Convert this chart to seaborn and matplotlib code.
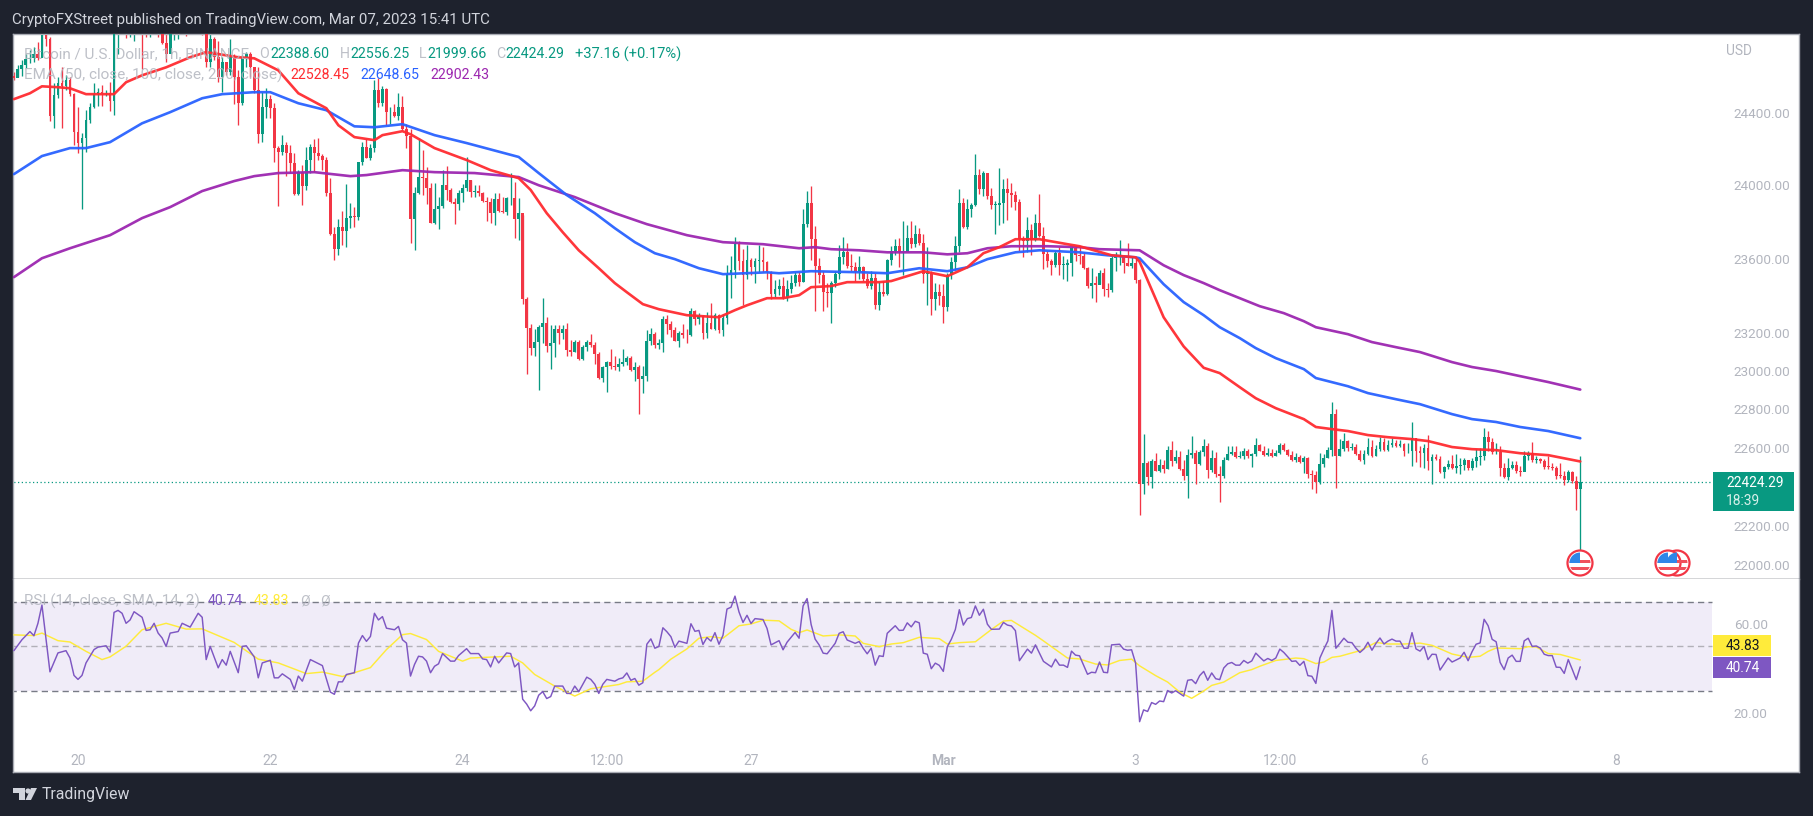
import numpy as np
import pandas as pd
import seaborn as sns
import matplotlib.pyplot as plt
from matplotlib.patches import Circle, Rectangle, Polygon

# hourly BTC/USD candles, oldest first (10 per row)
closes = [
    24595, 24645, 24670, 24706, 24712, 24730, 24712, 24840, 24820, 24381,
    24502, 24567, 24552, 24585, 24508, 24297, 24232, 24260, 24362, 24433,
    24508, 24519, 24511, 24515, 24468, 24846, 24900, 24960, 24870, 24890,
    24930, 24960, 24880, 24860, 24900, 24950, 24870, 24795, 24735, 24860,
    24900, 24930, 24960, 24900, 24950, 24960, 24930, 24860, 24688, 24818,
    24716, 24604, 24688, 24632, 24716, 24604, 24459, 24716, 24734, 24660,
    24530, 24282, 24433, 24478, 24427, 24204, 24186, 24223, 24176, 24124,
    23953, 24074, 23996, 24139, 24212, 24179, 24163, 24139, 23956, 23733,
    23650, 23769, 23751, 23819, 23833, 23828, 24126, 24212, 24148, 24203,
    24532, 24459, 24536, 24404, 24404, 24382, 24435, 24313, 24272, 23813,
    23956, 24047, 24042, 23983, 23795, 23868, 23886, 24002, 23974, 23906,
    23895, 23956, 23983, 24029, 23961, 23970, 23956, 23914, 23906, 23846,
    23923, 23859, 23855, 23928, 23928, 23813, 23846, 23384, 23229, 23122,
    23153, 23233, 23256, 23131, 23149, 23224, 23202, 23224, 23112, 23103,
    23156, 23064, 23126, 23153, 23135, 23090, 22962, 23023, 23046, 23028,
    23023, 23037, 23046, 23069, 23005, 23023, 22957, 22975, 23161, 23197,
    23135, 23149, 23277, 23250, 23218, 23161, 23202, 23192, 23188, 23318,
    23274, 23290, 23202, 23256, 23224, 23295, 23218, 23281, 23518, 23539,
    23678, 23589, 23509, 23594, 23553, 23589, 23592, 23580, 23526, 23411,
    23437, 23452, 23388, 23437, 23469, 23512, 23473, 23787, 23901, 23706,
    23561, 23512, 23420, 23413, 23467, 23516, 23610, 23634, 23558, 23552,
    23530, 23552, 23489, 23453, 23498, 23348, 23422, 23407, 23592, 23643,
    23670, 23634, 23637, 23711, 23677, 23733, 23684, 23516, 23516, 23380,
    23422, 23398, 23339, 23512, 23579, 23666, 23905, 23773, 23869, 23891,
    24059, 23977, 24068, 23941, 23892, 23892, 23905, 23981, 23959, 23945,
    23909, 23706, 23697, 23755, 23701, 23793, 23724, 23625, 23588, 23565,
    23630, 23565, 23567, 23576, 23655, 23619, 23615, 23548, 23453, 23467,
    23458, 23520, 23434, 23431, 23601, 23606, 23606, 23576, 23561, 23576,
    23483, 22410, 22521, 22450, 22529, 22478, 22512, 22490, 22589, 22529,
    22551, 22492, 22453, 22563, 22572, 22517, 22575, 22609, 22483, 22546,
    22466, 22453, 22538, 22568, 22577, 22551, 22555, 22585, 22555, 22568,
    22614, 22585, 22560, 22572, 22558, 22572, 22614, 22589, 22563, 22538,
    22551, 22526, 22546, 22466, 22461, 22422, 22516, 22546, 22589, 22776,
    22558, 22592, 22636, 22597, 22602, 22568, 22535, 22568, 22602, 22555,
    22592, 22631, 22589, 22614, 22623, 22606, 22619, 22580, 22584, 22648,
    22580, 22572, 22597, 22529, 22551, 22541, 22473, 22500, 22516, 22495,
    22507, 22512, 22534, 22495, 22529, 22551, 22558, 22654, 22628, 22575,
    22575, 22495, 22450, 22495, 22512, 22478, 22475, 22558, 22572, 22535,
    22541, 22529, 22500, 22499, 22495, 22456, 22453, 22431, 22473, 22427,
    22388.60, 22424.29,
]
highs = [
    24632, 24669, 24697, 24734, 24753, 24772, 24800, 24950, 24900, 24830,
    24567, 24604, 24660, 24613, 24604, 24511, 24433, 24288, 24418, 24455,
    24567, 24539, 24558, 24530, 24576, 24900, 24990, 25000, 24980, 24960,
    24990, 25000, 25000, 24950, 24980, 25000, 24980, 24950, 24850, 24950,
    24950, 24970, 25000, 24980, 24990, 25000, 24980, 24950, 24890, 24850,
    24830, 24809, 24716, 24688, 24818, 24734, 24641, 24725, 24744, 24744,
    24660, 24660, 24520, 24539, 24502, 24455, 24214, 24279, 24241, 24223,
    24176, 24084, 24111, 24212, 24230, 24258, 24261, 24175, 24157, 24042,
    23773, 23813, 23861, 24005, 23905, 23883, 24130, 24240, 24258, 24225,
    24587, 24596, 24551, 24541, 24432, 24450, 24510, 24496, 24340, 24313,
    23990, 24261, 24194, 24102, 24011, 24011, 23938, 24084, 24106, 23983,
    23928, 23974, 24005, 24153, 24029, 24002, 24002, 23965, 23938, 23928,
    23956, 23956, 23938, 23938, 24066, 24020, 23928, 23837, 23393, 23250,
    23224, 23242, 23389, 23286, 23245, 23242, 23245, 23245, 23256, 23162,
    23162, 23162, 23138, 23162, 23197, 23156, 23099, 23028, 23051, 23117,
    23078, 23067, 23117, 23081, 23078, 23046, 23033, 23028, 23215, 23227,
    23206, 23170, 23291, 23295, 23263, 23233, 23210, 23249, 23220, 23336,
    23325, 23309, 23295, 23313, 23363, 23307, 23304, 23304, 23566, 23615,
    23719, 23695, 23651, 23672, 23601, 23601, 23672, 23665, 23589, 23535,
    23482, 23491, 23500, 23482, 23509, 23530, 23530, 23869, 23968, 23996,
    23775, 23601, 23534, 23471, 23480, 23534, 23673, 23715, 23684, 23625,
    23583, 23615, 23561, 23525, 23534, 23525, 23476, 23480, 23597, 23670,
    23706, 23711, 23802, 23782, 23802, 23782, 23766, 23733, 23661, 23534,
    23471, 23462, 23462, 23525, 23606, 23724, 23981, 23932, 23927, 23905,
    24173, 24090, 24077, 24068, 23987, 23914, 24095, 24032, 24041, 24010,
    23968, 23923, 23720, 23824, 23787, 23842, 23950, 23769, 23643, 23597,
    23643, 23661, 23612, 23597, 23666, 23670, 23666, 23634, 23552, 23547,
    23507, 23539, 23547, 23471, 23615, 23634, 23701, 23621, 23684, 23615,
    23606, 23490, 22670, 22530, 22541, 22572, 22541, 22538, 22609, 22636,
    22589, 22580, 22538, 22592, 22660, 22589, 22589, 22643, 22626, 22589,
    22575, 22504, 22551, 22606, 22609, 22606, 22580, 22597, 22592, 22572,
    22648, 22620, 22609, 22597, 22592, 22589, 22623, 22623, 22592, 22580,
    22572, 22563, 22555, 22551, 22487, 22478, 22572, 22568, 22601, 22839,
    22801, 22643, 22677, 22640, 22623, 22620, 22589, 22589, 22648, 22640,
    22614, 22657, 22648, 22640, 22648, 22640, 22640, 22623, 22623, 22732,
    22648, 22606, 22619, 22665, 22568, 22568, 22558, 22507, 22538, 22563,
    22568, 22546, 22546, 22538, 22546, 22592, 22597, 22704, 22684, 22648,
    22623, 22606, 22521, 22546, 22529, 22529, 22504, 22585, 22580, 22628,
    22555, 22546, 22541, 22555, 22521, 22507, 22521, 22478, 22487, 22478,
    22453, 22556.25,
]
lows = [
    24586, 24604, 24608, 24651, 24679, 24688, 24697, 24745, 24780, 24353,
    24316, 24483, 24316, 24530, 24493, 24223, 24176, 23870, 24186, 24344,
    24427, 24437, 24441, 24493, 24409, 24390, 24730, 24880, 24822, 24831,
    24805, 24880, 24650, 24831, 24831, 24880, 24827, 24790, 24688, 24744,
    24810, 24815, 24880, 24836, 24880, 24900, 24870, 24840, 24660, 24660,
    24700, 24576, 24520, 24613, 24613, 24452, 24334, 24446, 24660, 24604,
    24511, 24232, 24241, 24372, 24372, 24130, 23888, 24167, 24050, 24065,
    23944, 23944, 23892, 23974, 24066, 24075, 24139, 24084, 23943, 23727,
    23593, 23617, 23672, 23663, 23764, 23773, 23809, 24111, 24148, 24139,
    24185, 24432, 24441, 24331, 24340, 24377, 24364, 24304, 24207, 23687,
    23645, 23950, 23947, 23897, 23791, 23786, 23760, 23873, 23919, 23901,
    23787, 23864, 23906, 23969, 23938, 23938, 23941, 23909, 23804, 23791,
    23782, 23852, 23846, 23837, 23892, 23709, 23703, 23357, 22983, 23085,
    23078, 22898, 23149, 23099, 23010, 23073, 23144, 23170, 23081, 23078,
    23099, 23058, 23060, 23108, 23126, 23037, 22957, 22943, 22889, 23010,
    23005, 23001, 23028, 23033, 23001, 22948, 22775, 22882, 22948, 23135,
    23122, 23117, 23103, 23197, 23179, 23161, 23129, 23174, 23149, 23185,
    23245, 23250, 23170, 23176, 23220, 23215, 23202, 23185, 23250, 23389,
    23496, 23541, 23348, 23491, 23509, 23468, 23530, 23530, 23491, 23384,
    23393, 23402, 23380, 23371, 23416, 23452, 23452, 23474, 23773, 23594,
    23317, 23471, 23317, 23339, 23257, 23449, 23492, 23570, 23547, 23534,
    23480, 23489, 23480, 23444, 23434, 23330, 23322, 23398, 23402, 23565,
    23619, 23552, 23510, 23646, 23657, 23661, 23673, 23467, 23353, 23299,
    23326, 23348, 23257, 23317, 23492, 23540, 23634, 23764, 23760, 23824,
    23887, 23950, 23941, 23927, 23869, 23733, 23784, 23796, 23811, 23878,
    23865, 23643, 23606, 23634, 23621, 23697, 23719, 23543, 23552, 23511,
    23552, 23511, 23489, 23480, 23507, 23588, 23570, 23543, 23444, 23386,
    23366, 23462, 23398, 23393, 23420, 23534, 23567, 23525, 23558, 23547,
    23467, 22252, 22359, 22405, 22393, 22478, 22475, 22470, 22490, 22504,
    22521, 22487, 22432, 22341, 22546, 22415, 22512, 22558, 22444, 22473,
    22450, 22320, 22444, 22534, 22560, 22546, 22546, 22543, 22546, 22499,
    22555, 22580, 22555, 22555, 22552, 22558, 22568, 22585, 22558, 22529,
    22526, 22521, 22470, 22444, 22388, 22365, 22415, 22500, 22546, 22555,
    22392, 22558, 22585, 22585, 22589, 22563, 22529, 22513, 22563, 22552,
    22555, 22580, 22585, 22585, 22601, 22602, 22602, 22558, 22570, 22504,
    22526, 22500, 22495, 22483, 22415, 22534, 22470, 22444, 22490, 22490,
    22470, 22466, 22485, 22485, 22485, 22500, 22509, 22538, 22580, 22568,
    22568, 22453, 22444, 22432, 22490, 22470, 22453, 22478, 22534, 22524,
    22521, 22519, 22490, 22492, 22487, 22436, 22444, 22405, 22422, 22419,
    22278, 21999.66,
]

# EMAs read at their visible bends: candle position, value
ema50_idx = [0, 4, 7, 11, 14, 18, 25, 28, 32, 38, 44, 48, 56, 60, 66, 71, 78, 81, 85, 90, 92, 97, 99, 105, 113,
             119, 126, 129, 133, 137, 141, 146, 150, 153, 157, 161, 168, 176, 180, 183, 188, 192, 196, 199, 204,
             208, 216, 219, 227, 233, 238, 242, 246, 250, 256, 263, 266, 274, 280, 281, 287, 292, 297, 301, 306,
             310, 315, 322, 325, 329, 333, 338, 343, 349, 353, 359, 364, 370, 376, 383, 391]
ema50_val = [24478, 24511, 24550, 24545, 24539, 24506, 24506, 24573, 24612, 24657, 24714, 24743, 24714, 24708,
             24640, 24511, 24427, 24332, 24266, 24249, 24277, 24299, 24282, 24205, 24139, 24083, 24039, 23974,
             23847, 23743, 23645, 23548, 23468, 23419, 23355, 23328, 23296, 23285, 23323, 23349, 23387, 23387,
             23403, 23446, 23452, 23473, 23473, 23479, 23532, 23505, 23553, 23629, 23662, 23705, 23705, 23678,
             23667, 23618, 23607, 23583, 23285, 23130, 23017, 22989, 22915, 22857, 22805, 22748, 22707, 22696,
             22686, 22665, 22654, 22644, 22634, 22603, 22592, 22587, 22571, 22561, 22528.45]
ema100_idx = [0, 7, 14, 18, 24, 32, 39, 47, 52, 60, 64, 71, 78, 85, 90, 97, 105, 113, 126, 131, 138, 145, 150, 155,
              160, 165, 171, 177, 188, 191, 199, 212, 218, 226, 233, 238, 243, 250, 256, 266, 273, 280, 281, 287,
              292, 297, 301, 306, 310, 315, 322, 325, 333, 338, 345, 351, 359, 364, 370, 376, 383, 391]
ema100_val = [24061, 24161, 24205, 24205, 24238, 24343, 24405, 24483, 24506, 24517, 24517, 24455, 24416, 24326,
              24321, 24338, 24277, 24233, 24156, 24067, 23946, 23847, 23765, 23689, 23629, 23597, 23548, 23516,
              23526, 23521, 23532, 23526, 23521, 23548, 23532, 23553, 23597, 23634, 23645, 23634, 23618, 23607,
              23602, 23462, 23366, 23296, 23232, 23174, 23121, 23068, 23010, 22963, 22920, 22884, 22852, 22826,
              22774, 22748, 22733, 22707, 22686, 22648.65]
ema200_idx = [0, 7, 14, 24, 32, 39, 47, 55, 60, 66, 75, 84, 88, 97, 105, 115, 126, 131, 140, 150, 158, 168, 177,
              187, 196, 200, 204, 211, 218, 227, 233, 238, 243, 249, 258, 266, 271, 281, 287, 292, 297, 301, 306,
              311, 317, 322, 325, 333, 339, 345, 351, 359, 364, 370, 376, 383, 391]
ema200_val = [23500, 23602, 23656, 23727, 23820, 23880, 23968, 24023, 24050, 24067, 24072, 24050, 24056, 24083,
              24072, 24067, 24045, 24000, 23935, 23847, 23787, 23727, 23689, 23678, 23656, 23662, 23651, 23645,
              23634, 23634, 23623, 23629, 23656, 23667, 23667, 23662, 23651, 23645, 23564, 23511, 23468, 23430,
              23387, 23344, 23307, 23264, 23232, 23195, 23153, 23126, 23100, 23047, 23021, 23000, 22973, 22942,
              22902.43]

# RSI(14) and its SMA
rsi_idx = [0, 2, 4, 5, 6, 7, 9, 11, 13, 14, 15, 16, 17, 18, 20, 21, 23, 24, 25, 26, 27, 28, 29, 30, 32, 33, 34, 35,
           36, 37, 38, 39, 41, 42, 44, 46, 47, 48, 49, 51, 52, 53, 54, 56, 57, 58, 60, 61, 62, 64, 65, 66, 67, 69,
           70, 71, 72, 74, 77, 79, 80, 81, 82, 83, 85, 86, 87, 88, 89, 90, 91, 92, 93, 95, 96, 97, 98, 99, 100,
           101, 102, 103, 104, 105, 106, 107, 109, 110, 111, 113, 114, 116, 117, 118, 119, 120, 121, 123, 124,
           125, 126, 127, 128, 129, 130, 131, 132, 133, 134, 135, 137, 138, 139, 140, 141, 143, 144, 145, 146,
           147, 148, 150, 151, 152, 153, 154, 155, 156, 157, 158, 159, 160, 161, 162, 163, 164, 165, 166, 168,
           169, 170, 171, 172, 173, 174, 175, 176, 177, 178, 179, 180, 181, 182, 183, 184, 185, 187, 188, 189,
           191, 192, 193, 195, 196, 197, 198, 199, 200, 201, 202, 203, 205, 206, 207, 208, 210, 211, 212, 213,
           214, 215, 216, 217, 218, 220, 221, 222, 223, 224, 225, 226, 227, 228, 229, 230, 231, 232, 233, 234,
           235, 236, 237, 238, 239, 240, 241, 242, 243, 244, 246, 247, 248, 249, 250, 251, 253, 254, 255, 257,
           259, 260, 261, 262, 263, 264, 265, 266, 268, 269, 270, 271, 272, 273, 274, 276, 277, 278, 279, 280,
           281, 282, 283, 284, 285, 286, 287, 288, 289, 290, 292, 293, 294, 295, 296, 297, 298, 299, 300, 301,
           302, 303, 304, 305, 306, 307, 308, 309, 310, 311, 312, 313, 314, 315, 316, 317, 319, 320, 321, 322,
           323, 324, 325, 326, 327, 328, 329, 330, 331, 332, 333, 334, 335, 336, 337, 338, 339, 340, 341, 342,
           343, 344, 345, 346, 347, 348, 349, 350, 351, 352, 353, 354, 355, 356, 358, 359, 361, 362, 363, 364,
           365, 366, 367, 368, 369, 370, 371, 372, 373, 374, 375, 376, 377, 378, 379, 380, 381, 382, 383, 384,
           385, 386, 387, 388, 389, 390, 391]
rsi_val = [48.0, 52.9, 56.6, 54.7, 60.3, 68.5, 38.5, 47.0, 48.0, 44.7, 36.9, 35.1, 36.9, 42.5, 48.5, 49.6, 50.2, 47.4,
           65.2, 66.1, 64.8, 60.3, 61.8, 65.5, 63.0, 57.1, 57.4, 60.3, 55.9, 53.7, 49.9, 55.9, 56.6, 60.3, 58.6,
           64.8, 63.0, 44.0, 49.9, 40.3, 44.0, 41.5, 47.7, 38.1, 49.9, 50.2, 45.2, 35.8, 42.5, 43.7, 35.8, 35.8,
           37.6, 35.1, 30.6, 36.6, 34.3, 44.0, 41.3, 29.4, 28.4, 34.0, 34.0, 37.3, 38.1, 51.4, 54.8, 52.2, 54.4,
           64.8, 61.8, 63.3, 58.1, 57.4, 58.9, 52.9, 51.4, 36.6, 41.8, 45.5, 45.2, 43.3, 38.1, 41.0, 42.1, 46.7,
           43.3, 43.3, 45.8, 48.9, 46.7, 46.7, 44.3, 44.0, 40.7, 45.5, 42.5, 47.0, 46.7, 40.7, 42.5, 26.2, 24.0,
           21.0, 23.2, 28.0, 29.6, 26.5, 27.4, 32.1, 32.1, 28.8, 28.8, 32.1, 29.6, 36.1, 35.1, 32.9, 28.8, 32.9,
           35.1, 34.3, 35.3, 35.8, 38.0, 34.7, 35.5, 32.5, 33.6, 50.9, 53.3, 49.1, 49.9, 58.3, 56.5, 54.3, 49.5,
           52.3, 51.3, 60.1, 56.7, 57.1, 50.8, 53.9, 52.3, 56.1, 50.9, 54.9, 66.7, 67.5, 72.5, 65.4, 60.7, 63.9,
           60.2, 62.4, 62.0, 58.0, 50.6, 52.5, 48.4, 51.8, 56.2, 53.6, 68.1, 71.4, 59.8, 53.2, 50.6, 46.9, 46.6,
           51.3, 55.8, 56.5, 52.8, 51.3, 52.1, 49.1, 46.6, 49.1, 41.5, 45.7, 45.4, 55.8, 59.2, 57.1, 57.2, 60.5,
           58.7, 61.2, 60.5, 46.9, 46.4, 39.9, 42.4, 41.4, 38.7, 49.8, 53.1, 57.5, 66.4, 59.5, 62.4, 62.9, 68.1,
           63.9, 66.6, 59.9, 57.6, 57.7, 60.7, 59.5, 59.1, 57.0, 43.5, 48.7, 46.9, 50.6, 43.2, 40.7, 44.2, 41.5,
           41.5, 40.5, 47.8, 46.0, 45.7, 37.4, 38.3, 38.1, 42.9, 38.3, 38.1, 50.6, 50.9, 48.7, 48.2, 48.4, 42.4,
           16.1, 21.4, 20.7, 24.7, 23.9, 25.4, 25.1, 30.1, 29.0, 30.0, 27.6, 34.7, 35.0, 33.2, 36.8, 38.7, 34.7,
           38.0, 35.4, 35.0, 40.2, 42.1, 42.7, 41.5, 41.5, 43.6, 42.4, 43.4, 46.9, 45.1, 43.4, 44.5, 43.6, 44.7,
           48.7, 47.2, 43.2, 43.4, 41.4, 43.2, 36.8, 36.5, 33.3, 44.7, 48.7, 52.4, 66.1, 49.1, 51.3, 53.6, 51.8,
           51.6, 49.1, 47.2, 48.8, 51.8, 48.2, 51.3, 53.7, 51.0, 52.3, 53.2, 52.3, 52.3, 49.1, 49.1, 56.1, 48.8,
           47.8, 49.9, 44.0, 46.4, 46.3, 39.3, 44.7, 42.9, 44.7, 47.3, 43.5, 47.6, 50.9, 51.5, 62.1, 59.2, 53.1,
           52.0, 42.7, 39.5, 44.7, 46.0, 43.2, 43.2, 52.4, 53.6, 49.9, 50.1, 49.2, 46.4, 45.8, 45.8, 40.6, 40.5,
           37.8, 44.0, 39.6, 35.0, 40.74]
rsi_ma_idx = [0, 5, 7, 11, 14, 18, 22, 24, 28, 32, 38, 43, 47, 55, 61, 66, 73, 77, 82, 89, 93, 97, 99, 103, 106, 112,
              114, 124, 127, 130, 135, 140, 144, 151, 153, 157, 160, 161, 164, 168, 171, 174, 177, 181, 184, 187,
              191, 194, 196, 198, 202, 206, 210, 212, 216, 219, 222, 226, 231, 233, 236, 240, 244, 247, 249, 255,
              257, 259, 263, 266, 270, 273, 276, 279, 281, 285, 288, 291, 294, 297, 299, 302, 306, 309, 311, 315,
              320, 322, 325, 327, 329, 331, 336, 340, 343, 347, 351, 354, 359, 363, 366, 368, 370, 376, 378, 380,
              383, 386, 391]
rsi_ma_val = [55.1, 54.8, 55.9, 52.5, 51.9, 47.7, 44.0, 45.2, 50.0, 57.4, 60.3, 57.7, 57.8, 51.7, 44.2, 42.5, 37.7,
              38.4, 36.4, 40.4, 48.5, 55.2, 55.7, 53.0, 47.7, 43.3, 44.7, 45.5, 42.5, 37.3, 32.1, 27.6, 30.9, 32.8,
              34.0, 34.3, 38.3, 39.5, 44.2, 48.8, 53.6, 54.3, 53.6, 59.2, 60.0, 61.7, 61.4, 57.6, 56.1, 57.3, 54.6,
              55.1, 54.6, 51.3, 49.8, 51.0, 51.6, 54.0, 53.4, 51.0, 51.6, 52.0, 57.5, 61.3, 61.6, 54.9, 52.4, 49.8,
              44.7, 44.3, 42.0, 41.6, 43.6, 44.2, 41.2, 36.8, 33.9, 29.4, 26.6, 29.9, 32.4, 33.9, 38.1, 39.5, 41.0,
              43.6, 44.7, 44.4, 42.2, 42.9, 45.0, 45.5, 48.0, 51.7, 51.0, 51.0, 51.4, 50.4, 46.5, 45.0, 45.5, 47.7,
              49.2, 48.9, 49.8, 49.7, 46.7, 46.3, 43.83]

last_price = 22424.29
price_ticks = [22000, 22200, 22600, 22800, 23000, 23200, 23600, 24000, 24400]
rsi_ticks = [20, 60]
date_pos = [16, 64, 112, 148, 184, 232, 280, 316, 352, 400]
date_labels = ["20", "22", "24", "12:00", "27", "Mar", "3", "12:00", "6", "8"]

W, H = 1813, 816
BG = "#1e222d"
GREEN = "#089981"
RED = "#f23645"
GREY = "#b2b5be"
EMA_RED = "#ff2b30"
EMA_BLUE = "#2962ff"
EMA_PURPLE = "#9c27b0"
RSI_PURPLE = "#7e57c2"
RSI_YELLOW = "#ffeb3b"

sns.set_theme(style="white")
plt.rcParams["font.family"] = ["Roboto", "DejaVu Sans"]


def rect(x0, y0, x1, y1):
    return [x0 / W, 1 - y1 / H, (x1 - x0) / W, (y1 - y0) / H]


df = pd.DataFrame({"close": closes, "high": highs, "low": lows})
df["i"] = df.index
df["open"] = df["close"].shift(1)
df.loc[0, "open"] = 24610
df["up"] = df["close"] >= df["open"]

fig = plt.figure(figsize=(W / 100, H / 100), dpi=100, facecolor=BG)
ax = fig.add_axes(rect(12.7, 34, 1799, 579))
ax2 = fig.add_axes(rect(12.7, 579, 1799, 772), sharex=ax)

# candles
colors = df["up"].map({True: GREEN, False: RED})
ax.vlines(df["i"], df["low"], df["high"], colors=colors, lw=0.95, zorder=2)
ax.bar(df["i"], (df["close"] - df["open"]).abs().clip(lower=4), bottom=df[["open", "close"]].min(axis=1),
       width=0.72, color=colors, lw=0, zorder=3)
ax.hlines(last_price, -1, 423.9, colors=GREEN, linestyles=(0, (1, 2)), lw=0.9, zorder=1)

for idx, val, col in [(ema200_idx, ema200_val, EMA_PURPLE), (ema100_idx, ema100_val, EMA_BLUE),
                      (ema50_idx, ema50_val, EMA_RED)]:
    sns.lineplot(x=idx, y=val, ax=ax, color=col, lw=1.9, estimator=None, zorder=4, alpha=0.95)

ax.set_yscale("log")
ax.set_xlim(-0.3, 445.6)
ax.set_ylim(21930, 24846)
ax.minorticks_off()
ax.set_yticks(price_ticks, [f"{p:.2f}" for p in price_ticks])
ax.tick_params(axis="y", which="both", left=False, right=False, labelleft=False, labelright=True,
               pad=-53, labelsize=9.7, labelcolor=GREY)
ax.tick_params(axis="x", bottom=False, labelbottom=False)
ax.set_xlabel("")
ax.set_ylabel("")

# RSI pane
ax2.fill_between([-1, 423.9], 30, 70, color=RSI_PURPLE, alpha=0.11, lw=0, zorder=1)
ax2.hlines([30, 70], -1, 423.9, colors="#787b86", linestyles=(0, (4.5, 3)), lw=1, zorder=2)
ax2.hlines(50, -1, 423.9, colors="#b2b0b8", linestyles=(0, (4.5, 3)), lw=1, zorder=2)
sns.lineplot(x=rsi_ma_idx, y=rsi_ma_val, ax=ax2, color=RSI_YELLOW, lw=1.05, estimator=None, zorder=3)
sns.lineplot(x=rsi_idx, y=rsi_val, ax=ax2, color=RSI_PURPLE, lw=1.05, estimator=None, zorder=4)
ax2.set_ylim(-6.5, 80.2)
ax2.set_yticks(rsi_ticks, [f"{t:.2f}" for t in rsi_ticks])
ax2.tick_params(axis="y", left=False, right=False, labelleft=False, labelright=True,
                pad=-53, labelsize=9.7, labelcolor=GREY)
ax2.set_xticks(date_pos, date_labels)
ax2.tick_params(axis="x", bottom=False, top=False, pad=-19, labelsize=10, labelcolor=GREY)
ax2.get_xticklabels()[5].set_fontweight("bold")
ax2.set_xlabel("")
ax2.set_ylabel("")

for a in (ax, ax2):
    a.set_facecolor("white")
    for s in a.spines.values():
        s.set_color("#a8abb3")
        s.set_linewidth(1)
ax.spines["bottom"].set_color("#2a2e39")
ax2.spines["top"].set_visible(False)

# overlay in pixel coordinates for header, legend lines and price labels
ov = fig.add_axes([0, 0, 1, 1], zorder=10)
ov.set_xlim(0, W)
ov.set_ylim(H, 0)
ov.axis("off")
ov.patch.set_alpha(0)


def label(x, y, s, color=GREY, size=9.9, **kw):
    ov.text(x, y, s, color=color, fontsize=size, va="center", ha=kw.pop("ha", "left"), **kw)


label(12, 20, "CryptoFXStreet published on TradingView.com, Mar 07, 2023 15:41 UTC", color="#d1d4dc", size=10.85)

label(24, 54, "Bitcoin / U.S. Dollar, 1h, BINANCE", size=11, alpha=0.85)
for x, s in [(259, "O"), (340, "H"), (419, "L"), (496, "C")]:
    label(x, 54, s, size=10.2, alpha=0.85)
for x, s in [(270, "22388.60"), (350, "22556.25"), (427, "21999.66"), (505, "22424.29")]:
    label(x, 54, s, color=GREEN, size=10.2)
label(575, 54, "+37.16 (+0.17%)", color=GREEN, size=10.5)
label(24, 75, "EMA (50, close, 100, close, 200, close)", size=11, alpha=0.85)
label(290, 75, "22528.45", color=EMA_RED, size=10.2)
label(360, 75, "22648.65", color=EMA_BLUE, size=10.2)
label(430, 75, "22902.43", color=EMA_PURPLE, size=10.2)

label(24, 601, "RSI (14, close, SMA, 14, 2)", size=11, alpha=0.85)
label(208, 601, "40.74", color=RSI_PURPLE, size=10.2)
label(254, 601, "43.83", color=RSI_YELLOW, size=10.2)
label(300, 601, "Ø", size=10.2, alpha=0.85)
label(320, 601, "Ø", size=10.2, alpha=0.85)

label(1726, 51, "USD")

# last value boxes on the price scale
ov.add_patch(Rectangle((1712.5, 472), 81, 39, color=GREEN, lw=0))
label(1726, 483, "22424.29", color="white")
label(1726, 501, "18:39", color="#d8f0ea")
ov.add_patch(Rectangle((1712.5, 635), 58.5, 21, color=RSI_YELLOW, lw=0))
label(1726, 645.5, "43.83", color="#131722")
ov.add_patch(Rectangle((1712.5, 657), 58.5, 21, color=RSI_PURPLE, lw=0))
label(1726, 667.5, "40.74", color="white")


def flag(cx, cy):
    ring = Circle((cx, cy), 12.5, fc="white", ec="#f23645", lw=1.6, zorder=5)
    ov.add_patch(ring)
    inner = Circle((cx, cy), 10.5, transform=ov.transData)
    for y0 in (cy - 3, cy + 3.5):
        st = Rectangle((cx - 11, y0), 22, 3.4, color="#f0505c", lw=0, zorder=6)
        ov.add_patch(st)
        st.set_clip_path(inner)
    blue = Rectangle((cx - 11, cy - 11), 11, 10.5, color="#2f86e8", lw=0, zorder=7)
    ov.add_patch(blue)
    blue.set_clip_path(inner)


flag(1677, 563)
flag(1668, 563)
flag(1580, 563)

# TradingView footer
ov.add_patch(Polygon([(13, 788), (25, 788), (25, 800), (19, 800), (19, 793), (13, 793)], color="#d1d4dc", lw=0))
ov.add_patch(Circle((28, 791), 2.6, color="#d1d4dc", lw=0))
ov.add_patch(Polygon([(31, 788), (37, 788), (31, 800), (25.5, 800)], color="#d1d4dc", lw=0))
label(42, 795, "TradingView", color="#d1d4dc", size=11.4)

fig.savefig("out.png", dpi=100, facecolor=BG)
